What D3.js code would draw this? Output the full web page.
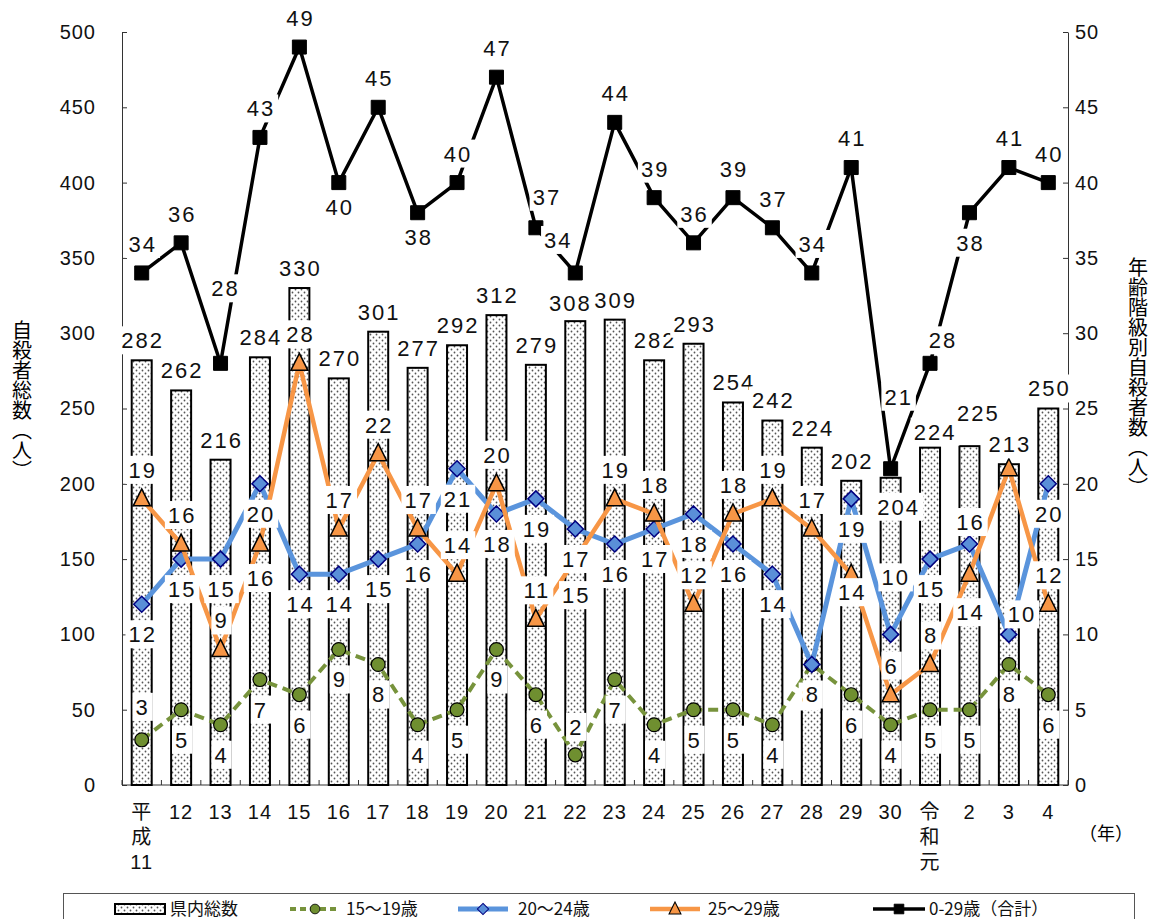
<!DOCTYPE html>
<html>
<head>
<meta charset="utf-8">
<script src="https://cdn.jsdelivr.net/npm/d3@7"></script>
<style>
  body { margin: 0; background: #fff; }
  svg { font-family: "Liberation Sans", "Noto Sans CJK JP", sans-serif; }
</style>
</head>
<body>
<div id="chart"></div>
<script>
// categories (年)
var years = ["平成11", "12", "13", "14", "15", "16", "17", "18", "19", "20", "21", "22",
  "23", "24", "25", "26", "27", "28", "29", "30", "令和元", "2", "3", "4"];

// 県内総数 (left axis)
var prefTotal = [282, 262, 216, 284, 330, 270, 301, 277, 292, 312, 279, 308,
  309, 282, 293, 254, 242, 224, 202, 204, 224, 225, 213, 250];

// age groups (right axis)
var age15_19 = [3, 5, 4, 7, 6, 9, 8, 4, 5, 9, 6, 2, 7, 4, 5, 5, 4, 8, 6, 4, 5, 5, 8, 6];
var age20_24 = [12, 15, 15, 20, 14, 14, 15, 16, 21, 18, 19, 17, 16, 17, 18, 16, 14, 8, 19, 10, 15, 16, 10, 20];
var age25_29 = [19, 16, 9, 16, 28, 17, 22, 17, 14, 20, 11, 15, 19, 18, 12, 18, 19, 17, 14, 6, 8, 14, 21, 12];
var age0_29 = [34, 36, 28, 43, 49, 40, 45, 38, 40, 47, 37, 34, 44, 39, 36, 39, 37, 34, 41, 21, 28, 38, 41, 40];

var leftTicks = d3.range(0, 501, 50);
var rightTicks = d3.range(0, 51, 5);

var W = 1151, H = 919;
var plot = { left: 122, right: 1068, top: 32, bottom: 785 };

var svg = d3.select("#chart").append("svg")
  .attr("width", W).attr("height", H);

// dotted fill for the bars
var defs = svg.append("defs");
var pat = defs.append("pattern")
  .attr("id", "dots")
  .attr("patternUnits", "userSpaceOnUse")
  .attr("width", 6).attr("height", 6);
pat.append("rect").attr("width", 6).attr("height", 6).attr("fill", "#fff");
pat.append("circle").attr("cx", 1.5).attr("cy", 1.5).attr("r", 0.9).attr("fill", "#555");
pat.append("circle").attr("cx", 4.5).attr("cy", 4.5).attr("r", 0.9).attr("fill", "#555");

var x = d3.scaleBand()
  .domain(d3.range(years.length))
  .range([plot.left, plot.right])
  .padding(0);
var cx = function (i) { return x(i) + x.bandwidth() / 2; };

var yL = d3.scaleLinear().domain([0, 500]).range([plot.bottom, plot.top]);
var yR = d3.scaleLinear().domain([0, 50]).range([plot.bottom, plot.top]);

// axes
var axisColor = "#333";
var gL = svg.append("g")
  .attr("transform", "translate(" + plot.left + ",0)")
  .call(d3.axisLeft(yL).tickValues(leftTicks).tickSize(-5).tickPadding(26).tickSizeOuter(0));
var gR = svg.append("g")
  .attr("transform", "translate(" + plot.right + ",0)")
  .call(d3.axisRight(yR).tickValues(rightTicks).tickSize(-5).tickPadding(7).tickSizeOuter(0));
[gL, gR].forEach(function (g) {
  g.select(".domain").attr("stroke", axisColor);
  g.selectAll(".tick line").attr("stroke", axisColor);
  g.selectAll(".tick text")
    .attr("font-size", 20)
    .attr("letter-spacing", 1)
    .attr("fill", "#111")
    .attr("font-family", "Liberation Sans, sans-serif");
});

// bottom axis line + separators between years
svg.append("line")
  .attr("x1", plot.left).attr("x2", plot.right)
  .attr("y1", plot.bottom).attr("y2", plot.bottom)
  .attr("stroke", axisColor);
svg.append("g").selectAll("line")
  .data(d3.range(years.length + 1))
  .enter().append("line")
  .attr("x1", function (i) { return i < years.length ? x(i) : plot.right; })
  .attr("x2", function (i) { return i < years.length ? x(i) : plot.right; })
  .attr("y1", plot.bottom).attr("y2", plot.bottom - 5)
  .attr("stroke", axisColor);

// year labels (era names stacked vertically)
var xl = svg.append("g").attr("font-size", 20).attr("fill", "#111").attr("text-anchor", "middle");
years.forEach(function (label, i) {
  var parts = label.length > 2 ? [label[0], label[1], label.slice(2)] : [label];
  var t = xl.append("text").attr("x", cx(i)).attr("y", 819).attr("letter-spacing", 1);
  parts.forEach(function (p, k) {
    t.append("tspan").attr("x", cx(i)).attr("dy", k === 0 ? 0 : 25).text(p);
  });
});
svg.append("text")
  .attr("x", 1106).attr("y", 840)
  .attr("font-size", 18).attr("text-anchor", "middle")
  .attr("font-family", "Noto Sans CJK JP")
  .text("（年）");

// axis titles, vertical writing
svg.append("text")
  .attr("x", 22).attr("y", 400)
  .attr("font-size", 20).attr("font-family", "Noto Sans CJK JP")
  .attr("text-anchor", "middle")
  .style("writing-mode", "vertical-rl")
  .text("自殺者総数（人）");
svg.append("text")
  .attr("x", 1138).attr("y", 377)
  .attr("font-size", 20).attr("font-family", "Noto Sans CJK JP")
  .attr("text-anchor", "middle")
  .style("writing-mode", "vertical-rl")
  .text("年齢階級別自殺者数（人）");

// bars
var barW = 20;
svg.append("g").selectAll("rect")
  .data(prefTotal)
  .enter().append("rect")
  .attr("x", function (d, i) { return cx(i) - barW / 2; })
  .attr("y", function (d) { return yL(d); })
  .attr("width", barW)
  .attr("height", function (d) { return plot.bottom - yL(d); })
  .attr("fill", "url(#dots)")
  .attr("stroke", "#000")
  .attr("stroke-width", 2);

// line series
var series = [
  { key: "a15", data: age15_19, color: "#77933c", width: 4, dash: "10,6", marker: "circle" },
  { key: "a20", data: age20_24, color: "#5a94dc", width: 5, dash: null, marker: "diamond" },
  { key: "a25", data: age25_29, color: "#f79646", width: 4.5, dash: null, marker: "triangle" },
  { key: "all", data: age0_29, color: "#000", width: 3.5, dash: null, marker: "square" }
];

var markerPath = {
  circle: d3.symbol().type(d3.symbolCircle).size(150)(),
  diamond: "M0,-8L8,0L0,8L-8,0Z",
  triangle: "M0,-10L8.5,7L-8.5,7Z",
  square: "M-7,-7H7V7H-7Z"
};
var markerStyle = {
  circle: { fill: "#6f8f30", stroke: "#000", sw: 1.2 },
  diamond: { fill: "#5a8fd8", stroke: "#000080", sw: 1.5 },
  triangle: { fill: "#f79646", stroke: "#000", sw: 1.5 },
  square: { fill: "#000", stroke: "#000", sw: 1 }
};

var line = d3.line()
  .x(function (d, i) { return cx(i); })
  .y(function (d) { return yR(d); });

series.forEach(function (s) {
  var g = svg.append("g");
  g.append("path")
    .datum(s.data)
    .attr("d", line)
    .attr("fill", "none")
    .attr("stroke", s.color)
    .attr("stroke-width", s.width)
    .attr("stroke-linejoin", "round")
    .attr("stroke-dasharray", s.dash);
  var ms = markerStyle[s.marker];
  g.selectAll("path.mk")
    .data(s.data)
    .enter().append("path")
    .attr("class", "mk")
    .attr("d", markerPath[s.marker])
    .attr("transform", function (d, i) { return "translate(" + cx(i) + "," + yR(d) + ")"; })
    .attr("fill", ms.fill)
    .attr("stroke", ms.stroke)
    .attr("stroke-width", ms.sw);
});

// data labels with white boxes; default offset per series, a few moved by hand
var labelDefault = { bar: -20, a15: 30, a20: 30, a25: -29, all: -29 };
var labelMove = {
  bar: { 11: [-6, -18], 19: [7, 29], 20: [4, -16], 21: [8, -33] },
  a15: { 0: [0, -33], 11: [0, -28], 17: [-4, 32] },
  a20: { 19: [4, -57], 21: [0, -22], 22: [12, -20] },
  a25: { 3: [0, 34], 11: [0, 36], 18: [0, 18], 21: [0, 38], 22: null },
  all: { 2: [4, -75], 5: [0, 24], 7: [0, 24], 10: [10, -31], 11: [-18, -33], 19: [7, -72], 20: [12, -23], 21: [0, 30] }
};

var labels = svg.append("g");
function addLabel(px, py, txt) {
  var g = labels.append("g").attr("transform", "translate(" + px + "," + py + ")");
  var box = g.append("rect").attr("fill", "#fff");
  var t = g.append("text")
    .attr("text-anchor", "middle")
    .attr("dy", "0.36em")
    .attr("font-size", 22)
    .attr("letter-spacing", 2)
    .attr("fill", "#111")
    .text(txt);
  var w = t.node().getComputedTextLength();
  box.attr("x", -w / 2 - 3).attr("y", -14).attr("width", w + 6).attr("height", 28);
}
function labelSeries(key, data, yScale) {
  data.forEach(function (d, i) {
    var mv = labelMove[key][i];
    if (mv === null) return;
    var dx = mv ? mv[0] : 0;
    var dy = mv ? mv[1] : labelDefault[key];
    addLabel(cx(i) + dx + 1, yScale(d) + dy, d);
  });
}
labelSeries("bar", prefTotal, yL);
labelSeries("a15", age15_19, yR);
labelSeries("a20", age20_24, yR);
labelSeries("a25", age25_29, yR);
labelSeries("all", age0_29, yR);

// legend
var lg = svg.append("g");
lg.append("rect")
  .attr("x", 63.5).attr("y", 893.5)
  .attr("width", 1071).attr("height", 40)
  .attr("fill", "#fff").attr("stroke", "#555");
var ly = 909;
var legendItems = [
  { label: "県内総数", type: "bar", x0: 115, x1: 165, tx: 170 },
  { label: "15～19歳", s: series[0], x0: 290, x1: 340, tx: 346 },
  { label: "20～24歳", s: series[1], x0: 458, x1: 508, tx: 518 },
  { label: "25～29歳", s: series[2], x0: 650, x1: 700, tx: 708 },
  { label: "0-29歳（合計）", s: series[3], x0: 873, x1: 925, tx: 929 }
];
legendItems.forEach(function (it) {
  if (it.type === "bar") {
    lg.append("rect")
      .attr("x", it.x0).attr("y", ly - 5)
      .attr("width", it.x1 - it.x0).attr("height", 10)
      .attr("fill", "url(#dots)").attr("stroke", "#000").attr("stroke-width", 2);
  } else {
    var s = it.s, ms = markerStyle[s.marker];
    lg.append("line")
      .attr("x1", it.x0).attr("x2", it.x1)
      .attr("y1", ly).attr("y2", ly)
      .attr("stroke", s.color).attr("stroke-width", s.width)
      .attr("stroke-dasharray", s.dash ? "6,4" : null);
    lg.append("path")
      .attr("d", markerPath[s.marker])
      .attr("transform", "translate(" + (it.x0 + it.x1) / 2 + "," + ly + ") scale(0.7)")
      .attr("fill", ms.fill).attr("stroke", ms.stroke).attr("stroke-width", ms.sw);
  }
  lg.append("text")
    .attr("x", it.tx).attr("y", ly + 6)
    .attr("font-size", 17)
    .attr("font-family", "Noto Sans CJK JP")
    .attr("fill", "#111")
    .text(it.label);
});
</script>
</body>
</html>
